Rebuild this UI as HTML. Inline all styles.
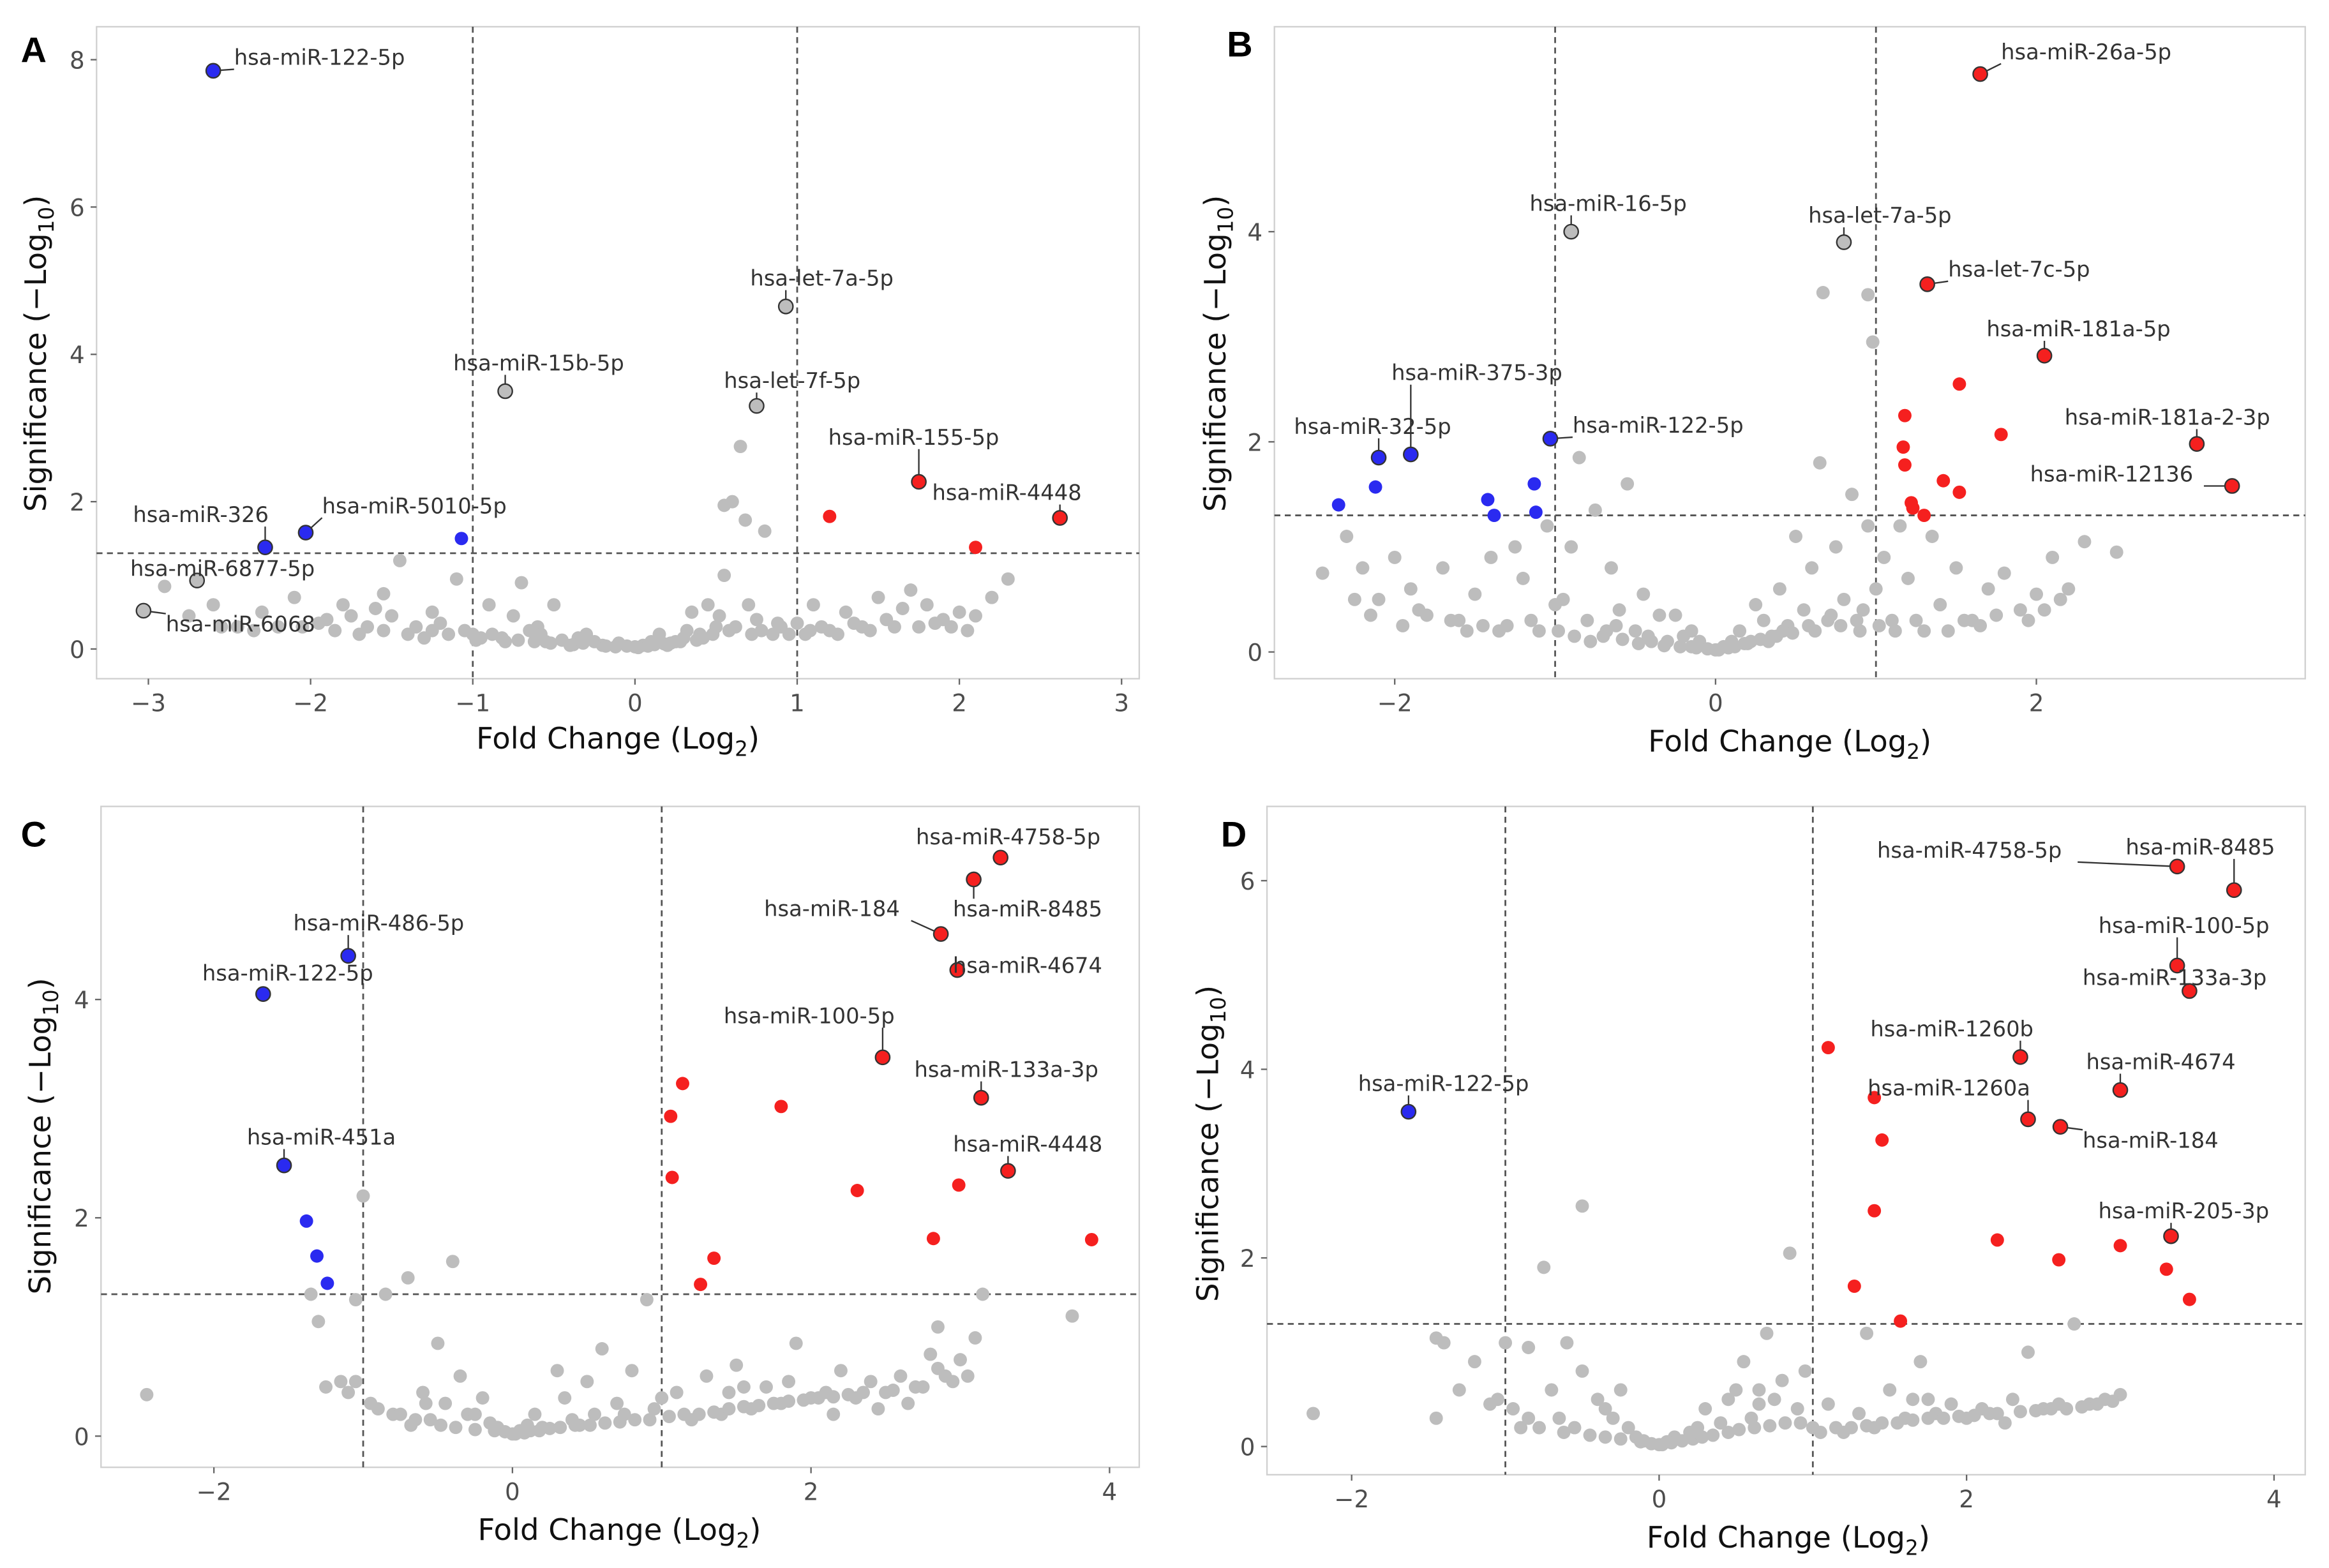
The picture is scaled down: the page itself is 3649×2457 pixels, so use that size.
<!DOCTYPE html>
<html><head><meta charset="utf-8"><style>
html,body{margin:0;padding:0;background:#fff}
svg{display:block;font-family:"DejaVu Sans","Liberation Sans",sans-serif}
</style></head><body>
<svg id="chart" width="3649" height="2457" viewBox="0 0 1568 1055.8" xmlns="http://www.w3.org/2000/svg"></svg>
<script>
// ---------- data ----------
const aLabelNames = ["hsa-miR-122-5p","hsa-miR-326","hsa-miR-5010-5p","hsa-miR-155-5p","hsa-miR-4448","hsa-let-7a-5p","hsa-let-7f-5p","hsa-miR-15b-5p","hsa-miR-6877-5p","hsa-miR-6068"];
const aLabelX = [-2.6,-2.28,-2.03,1.75,2.62,0.93,0.75,-0.8,-2.7,-3.03];
const aLabelY = [7.85,1.38,1.58,2.27,1.78,4.65,3.3,3.5,0.93,0.52];
const aLabelCls = ["down","down","down","up","up","ns","ns","ns","ns","ns"];
const aUpX = [1.2,2.1];
const aUpY = [1.8,1.38];
const aDownX = [-1.07];
const aDownY = [1.5];
const aGray = [[-2.9,0.85],[-2.75,0.45],[-2.6,0.6],[-2.45,0.3],[-2.3,0.5],[-2.2,0.3],[-2.1,0.7],[-1.95,0.35],[-1.85,0.25],[-1.7,0.2],[-1.6,0.55],[-1.5,0.45],[-1.45,1.2],[-1.4,0.2],[-1.3,0.15],[-1.2,0.35],[-1.1,0.95],[-1.0,0.2],[-0.95,0.15],[-0.9,0.6],[-0.8,0.1],[-0.75,0.45],[-0.7,0.9],[-0.6,0.3],[-0.55,0.1],[-0.5,0.6],[-0.4,0.05],[-0.3,0.2],[-0.25,0.1],[-0.2,0.05],[-0.1,0.08],[-0.05,0.04],[0,0.03],[0.05,0.05],[0.1,0.1],[0.15,0.2],[0.2,0.05],[0.3,0.15],[0.35,0.5],[0.4,0.2],[0.5,0.3],[0.55,1.0],[0.6,2.0],[0.65,2.75],[0.7,0.6],[0.75,0.4],[0.8,1.6],[0.85,0.2],[0.9,0.3],[1.0,0.35],[1.1,0.6],[1.2,0.25],[1.3,0.5],[1.4,0.3],[1.5,0.7],[1.6,0.3],[1.7,0.8],[1.8,0.6],[1.9,0.4],[2.0,0.5],[2.1,0.45],[2.2,0.7],[2.3,0.95],[0.55,1.95],[0.68,1.75],[-1.05,0.25],[-1.55,0.75],[-1.9,0.4],[-2.55,0.3],[-0.65,0.25],[-0.35,0.15],[0.25,0.1],[0.45,0.6],[-1.25,0.5],[1.05,0.2],[1.65,0.55]];
const aGrayLow = [[-1.65,0.3],[-1.55,0.25],[-1.35,0.3],[-1.15,0.2],[-0.98,0.12],[-0.88,0.2],[-0.82,0.15],[-0.72,0.12],[-0.62,0.1],[-0.52,0.08],[-0.45,0.12],[-0.38,0.06],[-0.32,0.08],[-0.18,0.04],[-0.12,0.03],[0.02,0.02],[0.08,0.04],[0.12,0.06],[0.18,0.07],[0.22,0.08],[0.28,0.1],[0.38,0.12],[0.42,0.15],[0.48,0.2],[0.58,0.25],[0.62,0.3],[0.72,0.2],[0.78,0.25],[0.88,0.35],[0.95,0.2],[1.08,0.25],[1.15,0.3],[1.25,0.2],[1.35,0.35],[1.45,0.25],[1.55,0.4],[1.75,0.3],[1.85,0.35],[1.95,0.3],[2.05,0.25],[-1.75,0.45],[-2.05,0.3],[-2.35,0.25],[-1.25,0.25],[-0.58,0.2],[0.32,0.25],[0.52,0.45],[-1.8,0.6]];

const bLabelNames = ["hsa-miR-26a-5p","hsa-miR-16-5p","hsa-let-7a-5p","hsa-let-7c-5p","hsa-miR-181a-5p","hsa-miR-375-3p","hsa-miR-32-5p","hsa-miR-122-5p","hsa-miR-181a-2-3p","hsa-miR-12136"];
const bLabelX = [1.65,-0.9,0.8,1.32,2.05,-1.9,-2.1,-1.03,3.0,3.22];
const bLabelY = [5.5,4.0,3.9,3.5,2.82,1.88,1.85,2.03,1.98,1.58];
const bLabelCls = ["up","ns","ns","up","up","down","down","down","up","up"];
const bUpX = [1.18,1.52,1.17,1.18,1.78,1.42,1.22,1.23,1.3,1.52];
const bUpY = [2.25,2.55,1.95,1.78,2.07,1.63,1.42,1.37,1.3,1.52];
const bDownX = [-2.35,-2.12,-1.42,-1.38,-1.13,-1.12];
const bDownY = [1.4,1.57,1.45,1.3,1.6,1.33];
const bGray = [[0.67,3.42],[0.95,3.4],[0.98,2.95],[-2.45,0.75],[-2.3,1.1],[-2.2,0.8],[-2.1,0.5],[-2.0,0.9],[-1.9,0.6],[-1.8,0.35],[-1.7,0.8],[-1.6,0.3],[-1.5,0.55],[-1.4,0.9],[-1.3,0.25],[-1.2,0.7],[-1.1,0.2],[-1.05,1.2],[-0.95,0.5],[-0.9,1.0],[-0.85,1.85],[-0.8,0.3],[-0.75,1.35],[-0.7,0.15],[-0.65,0.8],[-0.6,0.4],[-0.55,1.6],[-0.5,0.2],[-0.45,0.55],[-0.4,0.1],[-0.35,0.35],[-0.3,0.1],[-0.2,0.15],[-0.15,0.05],[-0.1,0.1],[-0.05,0.03],[0,0.02],[0.05,0.05],[0.1,0.1],[0.15,0.2],[0.2,0.08],[0.3,0.3],[0.35,0.15],[0.4,0.6],[0.45,0.25],[0.5,1.1],[0.55,0.4],[0.6,0.8],[0.65,1.8],[0.7,0.3],[0.75,1.0],[0.8,0.5],[0.85,1.5],[0.9,0.2],[0.95,1.2],[1.0,0.6],[1.05,0.9],[1.1,0.3],[1.2,0.7],[1.3,0.2],[1.4,0.45],[1.5,0.8],[1.6,0.3],[1.7,0.6],[1.8,0.75],[1.9,0.4],[2.0,0.55],[2.1,0.9],[2.2,0.6],[2.3,1.05],[2.5,0.95],[-1.0,0.45],[-1.25,1.0],[-1.95,0.25],[-2.15,0.35],[0.25,0.45],[-0.25,0.35],[1.15,1.2],[1.35,1.1]];
const bGrayLow = [[-1.65,0.3],[-1.45,0.25],[-1.35,0.2],[-1.15,0.3],[-0.98,0.2],[-0.88,0.15],[-0.78,0.1],[-0.68,0.2],[-0.58,0.12],[-0.48,0.08],[-0.42,0.15],[-0.32,0.06],[-0.22,0.05],[-0.12,0.04],[0.02,0.02],[0.08,0.04],[0.12,0.05],[0.18,0.08],[0.22,0.1],[0.28,0.12],[0.38,0.15],[0.42,0.2],[0.48,0.18],[0.58,0.25],[0.62,0.2],[0.72,0.35],[0.78,0.25],[0.88,0.3],[0.92,0.4],[1.02,0.25],[1.12,0.2],[1.25,0.3],[1.45,0.2],[1.55,0.3],[1.65,0.25],[1.75,0.35],[1.95,0.3],[2.05,0.4],[2.15,0.5],[-1.55,0.2],[-1.85,0.4],[-2.25,0.5],[-0.15,0.2],[0.33,0.1],[-0.62,0.25]];

const cLabelNames = ["hsa-miR-4758-5p","hsa-miR-8485","hsa-miR-184","hsa-miR-4674","hsa-miR-486-5p","hsa-miR-122-5p","hsa-miR-100-5p","hsa-miR-133a-3p","hsa-miR-451a","hsa-miR-4448"];
const cLabelX = [3.27,3.09,2.87,2.98,-1.1,-1.67,2.48,3.14,-1.53,3.32];
const cLabelY = [5.3,5.1,4.6,4.27,4.4,4.05,3.47,3.1,2.48,2.43];
const cLabelCls = ["up","up","up","up","down","down","up","up","down","up"];
const cUpX = [1.14,1.06,1.8,1.07,2.31,2.99,2.82,1.35,1.26,3.88];
const cUpY = [3.23,2.93,3.02,2.37,2.25,2.3,1.81,1.63,1.39,1.8];
const cDownX = [-1.38,-1.31,-1.24];
const cDownY = [1.97,1.65,1.4];
const cGray = [[-2.45,0.38],[-1.35,1.3],[-1.3,1.05],[-1.25,0.45],[-1.05,1.25],[-1.0,2.2],[-1.05,0.5],[-0.95,0.3],[-0.85,1.3],[-0.7,1.45],[-0.6,0.4],[-0.5,0.85],[-0.4,1.6],[-0.45,0.3],[-0.35,0.55],[-0.3,0.2],[-0.2,0.35],[-0.15,0.12],[-0.1,0.08],[-0.05,0.04],[0,0.02],[0.05,0.05],[0.1,0.1],[0.15,0.2],[0.2,0.08],[0.3,0.6],[0.35,0.35],[0.4,0.15],[0.5,0.5],[0.6,0.8],[0.7,0.3],[0.8,0.6],[0.9,1.25],[0.95,0.25],[1.0,0.35],[1.1,0.4],[1.2,0.15],[1.3,0.55],[1.4,0.2],[1.5,0.65],[1.6,0.25],[1.7,0.45],[1.8,0.3],[1.9,0.85],[2.0,0.35],[2.1,0.4],[2.2,0.6],[2.3,0.35],[2.4,0.5],[2.5,0.4],[2.6,0.55],[2.7,0.45],[2.8,0.75],[2.9,0.55],[3.0,0.7],[3.1,0.9],[3.15,1.3],[2.85,1.0],[3.75,1.1],[-0.8,0.2],[-0.65,0.15],[-1.1,0.4],[0.45,0.1],[0.75,0.2],[1.55,0.45],[2.15,0.2],[2.45,0.25],[1.45,0.4],[2.65,0.3]];
const cGrayLow = [[-0.9,0.25],[-0.75,0.2],[-0.68,0.1],[-0.55,0.15],[-0.48,0.1],[-0.38,0.08],[-0.25,0.06],[-0.12,0.05],[0.02,0.02],[0.08,0.03],[0.12,0.05],[0.18,0.05],[0.25,0.07],[0.32,0.08],[0.42,0.1],[0.52,0.1],[0.62,0.12],[0.72,0.13],[0.82,0.15],[0.92,0.15],[1.05,0.18],[1.15,0.2],[1.25,0.2],[1.35,0.22],[1.45,0.25],[1.55,0.27],[1.65,0.28],[1.75,0.3],[1.85,0.32],[1.95,0.33],[2.05,0.35],[2.15,0.36],[2.25,0.38],[2.35,0.4],[2.55,0.42],[2.75,0.45],[2.95,0.5],[3.05,0.55],[2.85,0.62],[-0.58,0.3],[-1.15,0.5],[-0.25,0.2],[0.55,0.2],[1.85,0.5]];

const dLabelNames = ["hsa-miR-4758-5p","hsa-miR-8485","hsa-miR-100-5p","hsa-miR-133a-3p","hsa-miR-1260b","hsa-miR-4674","hsa-miR-1260a","hsa-miR-184","hsa-miR-205-3p","hsa-miR-122-5p"];
const dLabelX = [3.37,3.74,3.37,3.45,2.35,3.0,2.4,2.61,3.33,-1.63];
const dLabelY = [6.15,5.9,5.1,4.83,4.13,3.78,3.47,3.39,2.23,3.55];
const dLabelCls = ["up","up","up","up","up","up","up","up","up","down"];
const dUpX = [1.1,1.4,1.45,1.4,2.2,2.6,3.0,3.3,3.45,1.27,1.57];
const dUpY = [4.23,3.7,3.25,2.5,2.19,1.98,2.13,1.88,1.56,1.7,1.33];
const dDownX = [];
const dDownY = [];
const dGray = [[-2.25,0.35],[-1.45,1.15],[-1.4,1.1],[-1.45,0.3],[-1.3,0.6],[-1.2,0.9],[-1.05,0.5],[-1.0,1.1],[-0.95,0.4],[-0.85,1.05],[-0.75,1.9],[-0.7,0.6],[-0.6,1.1],[-0.5,2.55],[-0.5,0.8],[-0.4,0.5],[-0.3,0.3],[-0.2,0.2],[-0.15,0.1],[-0.1,0.06],[-0.05,0.03],[0,0.02],[0.05,0.05],[0.1,0.1],[0.2,0.15],[0.3,0.4],[0.4,0.25],[0.5,0.6],[0.6,0.3],[0.7,1.2],[0.75,0.5],[0.8,0.7],[0.85,2.05],[0.9,0.4],[1.0,0.2],[1.1,0.45],[1.2,0.15],[1.3,0.35],[1.4,0.2],[1.5,0.6],[1.6,0.3],[1.7,0.9],[1.8,0.35],[1.9,0.45],[2.0,0.3],[2.1,0.4],[2.2,0.35],[2.3,0.5],[2.4,1.0],[2.5,0.4],[2.6,0.45],[2.7,1.3],[2.8,0.45],[2.9,0.5],[3.0,0.55],[-0.65,0.3],[-0.25,0.6],[0.25,0.2],[0.55,0.9],[0.65,0.45],[-0.9,0.2],[1.35,1.2],[1.65,0.5],[2.25,0.25],[0.95,0.8]];
const dGrayLow = [[-0.85,0.3],[-0.78,0.2],[-0.62,0.15],[-0.55,0.2],[-0.45,0.12],[-0.35,0.1],[-0.25,0.08],[-0.12,0.05],[0.02,0.02],[0.08,0.04],[0.15,0.06],[0.22,0.08],[0.28,0.1],[0.35,0.12],[0.45,0.15],[0.52,0.18],[0.62,0.2],[0.72,0.22],[0.82,0.25],[0.92,0.25],[1.05,0.15],[1.15,0.2],[1.25,0.2],[1.35,0.22],[1.45,0.25],[1.55,0.25],[1.65,0.28],[1.75,0.3],[1.85,0.3],[1.95,0.32],[2.05,0.33],[2.15,0.35],[2.35,0.37],[2.45,0.38],[2.55,0.4],[2.65,0.4],[2.75,0.42],[2.85,0.45],[2.95,0.48],[-0.35,0.4],[0.45,0.5],[0.65,0.6],[-1.1,0.45],[1.75,0.5]];

// ---------- drawing ----------
const NS = "http://www.w3.org/2000/svg";
const svg = document.getElementById("chart");
function mk(tag, attrs, parent){
  const e = document.createElementNS(NS, tag);
  for (const k in attrs) e.setAttribute(k, attrs[k]);
  (parent||svg).appendChild(e);
  return e;
}
const COL = {up:"#f5201f", down:"#2a2af0", ns:"#bdbdbd"};

function drawPanel(p){
  const g = mk("g", {});
  
  
  const [L,T,R,B] = p.rect;
  const sx = v => p.x0 + p.ux * v;
  const sy = v => p.y0 - p.uy * v;
  const frame = mk("rect", {x:L, y:T, width:R-L, height:B-T, fill:"#fff", stroke:"#d0d0d0", "stroke-width":1}, g);
  
  
  p.xticks.forEach(t => {
    const x = sx(t);
    mk("line", {x1:x, x2:x, y1:B, y2:B+4, stroke:"#666", "stroke-width":1}, g);
    const tx = mk("text", {x:x, y:B+22, "text-anchor":"middle", "font-size":16, fill:"#4d4d4d"}, g);
    tx.textContent = t < 0 ? "\u2212" + (-t) : t;
    
    
  });
  p.yticks.forEach(t => {
    const y = sy(t);
    mk("line", {x1:L-4, x2:L, y1:y, y2:y, stroke:"#666", "stroke-width":1}, g);
    const ty = mk("text", {x:L-8, y:y+6, "text-anchor":"end", "font-size":16, fill:"#4d4d4d"}, g);
    ty.textContent = t;
    
    
  });
  [-1,1].forEach(v => {
    const l = mk("line", {x1:sx(v), x2:sx(v), y1:T, y2:B, stroke:"#555", "stroke-width":1.2, "stroke-dasharray":"4,3"}, g);
    
    
  });
  const hl = mk("line", {x1:L, x2:R, y1:sy(1.3), y2:sy(1.3), stroke:"#555", "stroke-width":1.2, "stroke-dasharray":"4,3"}, g);
  
  
  p.gray.concat(p.grayLow).forEach(d => {
    const c = mk("circle", {cx:sx(d[0]), cy:sy(d[1]), r:4.5, fill:COL.ns}, g);
    
    
  });
  p.upX.forEach((v,i) => {
    const c = mk("circle", {cx:sx(v), cy:sy(p.upY[i]), r:4.5, fill:COL.up}, g);
    
    
  });
  p.downX.forEach((v,i) => {
    const c = mk("circle", {cx:sx(v), cy:sy(p.downY[i]), r:4.5, fill:COL.down}, g);
    
    
  });
  p.names.forEach((n,i) => {
    const px = sx(p.lx[i]), py = sy(p.ly[i]);
    const [dx,dy] = p.offs[i];
    const tx = px+dx, ty = py+dy, w = n.length*9.0;
    const cxn = Math.max(tx, Math.min(px, tx+w));
    const cyn = Math.max(ty-12, Math.min(py, ty+3));
    if (Math.hypot(cxn-px, cyn-py) > 7) {
      const ln = mk("line", {x1:px, y1:py, x2:cxn, y2:cyn, stroke:"#333", "stroke-width":1}, g);
      
      
    }
    const c = mk("circle", {cx:px, cy:py, r:4.8, fill:COL[p.cls[i]], stroke:"#333", "stroke-width":1}, g);
    
    
    const t = mk("text", {x:tx, y:ty, "font-size":14.5, fill:"#333"}, g);
    t.textContent = n;
    
    
  });
  const xt = mk("text", {x:p.xt[0], y:p.xt[1], "text-anchor":"middle", "font-size":20, fill:"#111"}, g);
  xt.innerHTML = 'Fold Change (Log<tspan font-size="14" dy="5">2</tspan><tspan dy="-5">)</tspan>';
  
  
  const yt = mk("text", {x:0, y:0, "text-anchor":"middle", "font-size":20, fill:"#111", transform:`translate(${p.yt[0]},${p.yt[1]}) rotate(-90)`}, g);
  yt.innerHTML = 'Significance (\u2212Log<tspan font-size="14" dy="5">10</tspan><tspan dy="-5">)</tspan>';
  
  
  const pl = mk("text", {x:p.letter[0], y:p.letter[1], "font-size":24, "font-weight":"bold", fill:"#000", "font-family":"Liberation Sans, sans-serif"}, g);
  pl.textContent = p.id;
  
  
}

drawPanel({id:"A", rect:[65,18,767,457], x0:427.5, ux:109.2, y0:437, uy:49.6,
  xticks:[-3,-2,-1,0,1,2,3], yticks:[0,2,4,6,8], xt:[416,504], yt:[31,238], letter:[14,42],
  gray:aGray, grayLow:aGrayLow, upX:aUpX, upY:aUpY, downX:aDownX, downY:aDownY,
  names:aLabelNames, lx:aLabelX, ly:aLabelY, cls:aLabelCls,
  offs:[[14,-4],[-89,-17],[11,-13],[-61,-25],[-86,-12],[-24,-14],[-22,-12],[-35,-14],[-45,-3],[15,14]]});
drawPanel({id:"B", rect:[858,18,1552,457], x0:1155, ux:108, y0:439, uy:70.75,
  xticks:[-2,0,2], yticks:[0,2,4], xt:[1205,506], yt:[825,238], letter:[826,38],
  gray:bGray, grayLow:bGrayLow, upX:bUpX, upY:bUpY, downX:bDownX, downY:bDownY,
  names:bLabelNames, lx:bLabelX, ly:bLabelY, cls:bLabelCls,
  offs:[[14,-10],[-28,-14],[-24,-13],[14,-5],[-39,-13],[-13,-50],[-57,-16],[15,-4],[-89,-13],[-136,-3]]});
drawPanel({id:"C", rect:[68,543,767,988], x0:345, ux:100.5, y0:967, uy:73.5,
  xticks:[-2,0,2,4], yticks:[0,2,4], xt:[417,1037], yt:[34,765], letter:[14,570],
  gray:cGray, grayLow:cGrayLow, upX:cUpX, upY:cUpY, downX:cDownX, downY:cDownY,
  names:cLabelNames, lx:cLabelX, ly:cLabelY, cls:cLabelCls,
  offs:[[-57,-9],[-14,25],[-119,-12],[-3,2],[-37,-17],[-41,-9],[-107,-23],[-45,-14],[-25,-14],[-37,-13]]});
drawPanel({id:"D", rect:[853,543,1552,993], x0:1117, ux:103.5, y0:974, uy:63.5,
  xticks:[-2,0,2,4], yticks:[0,2,4,6], xt:[1204,1042], yt:[820,770], letter:[822,570],
  gray:dGray, grayLow:dGrayLow, upX:dUpX, upY:dUpY, downX:dDownX, downY:dDownY,
  names:dLabelNames, lx:dLabelX, ly:dLabelY, cls:dLabelCls,
  offs:[[-202,-6],[-73,-24],[-53,-22],[-72,-4],[-101,-14],[-23,-14],[-108,-16],[15,14],[-49,-12],[-34,-14]]});
</script>
</body></html>
